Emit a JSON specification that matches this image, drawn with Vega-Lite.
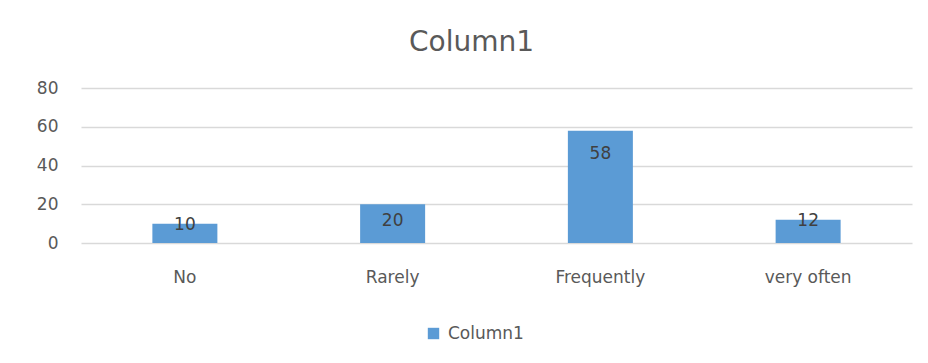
{
  "$schema": "https://vega.github.io/schema/vega-lite/v6.json",
  "autosize": "none",
  "width": 831,
  "height": 155,
  "padding": {"left": 81, "top": 88, "right": 16, "bottom": 120},
  "background": "white",
  "data": {"values": [
    {"category": "No", "value": 10, "series": "Column1"},
    {"category": "Rarely", "value": 20, "series": "Column1"},
    {"category": "Frequently", "value": 58, "series": "Column1"},
    {"category": "very often", "value": 12, "series": "Column1"}
  ]},
  "title": {
    "text": "Column1",
    "anchor": "middle",
    "frame": "group",
    "dx": -25,
    "offset": 22,
    "fontSize": 28,
    "fontWeight": "normal",
    "font": "DejaVu Sans",
    "color": "#595959"
  },
  "encoding": {
    "x": {
      "field": "category", "type": "nominal", "sort": null,
      "scale": {"paddingInner": 0, "paddingOuter": 0},
      "axis": {"title": null, "labelAngle": 0, "ticks": false, "domain": false, "labelPadding": 26, "labelFontSize": 17, "labelFont": "DejaVu Sans", "labelColor": "#595959", "grid": false}
    },
    "y": {
      "field": "value", "type": "quantitative",
      "scale": {"domain": [0, 80]},
      "axis": {"title": null, "values": [0, 20, 40, 60, 80], "ticks": false, "domain": false, "labelPadding": 23, "labelFontSize": 17, "labelFont": "DejaVu Sans", "labelColor": "#595959", "gridColor": "#D9D9D9", "gridWidth": 1.5}
    }
  },
  "layer": [
    {
      "mark": {"type": "bar", "size": 65},
      "encoding": {
        "color": {
          "field": "series", "type": "nominal",
          "scale": {"range": ["#5B9BD5"]},
          "legend": {"title": null, "orient": "none", "legendX": 344, "legendY": 237, "symbolType": "square", "symbolSize": 130, "symbolStrokeWidth": 0, "labelFontSize": 17, "labelFont": "DejaVu Sans", "labelColor": "#595959", "labelOffset": 6}
        }
      }
    },
    {
      "transform": [{"filter": "datum.value >= 30"}],
      "mark": {"type": "text", "dy": 23, "fontSize": 17, "font": "DejaVu Sans", "color": "#404040"},
      "encoding": {"text": {"field": "value", "type": "quantitative"}}
    },
    {
      "transform": [{"filter": "datum.value >= 15 && datum.value < 30"}],
      "mark": {"type": "text", "dy": 17, "fontSize": 17, "font": "DejaVu Sans", "color": "#404040"},
      "encoding": {"text": {"field": "value", "type": "quantitative"}}
    },
    {
      "transform": [{"filter": "datum.value < 15"}],
      "mark": {"type": "text", "dy": 1, "fontSize": 17, "font": "DejaVu Sans", "color": "#404040"},
      "encoding": {"text": {"field": "value", "type": "quantitative"}}
    }
  ],
  "config": {"view": {"stroke": null}}
}
